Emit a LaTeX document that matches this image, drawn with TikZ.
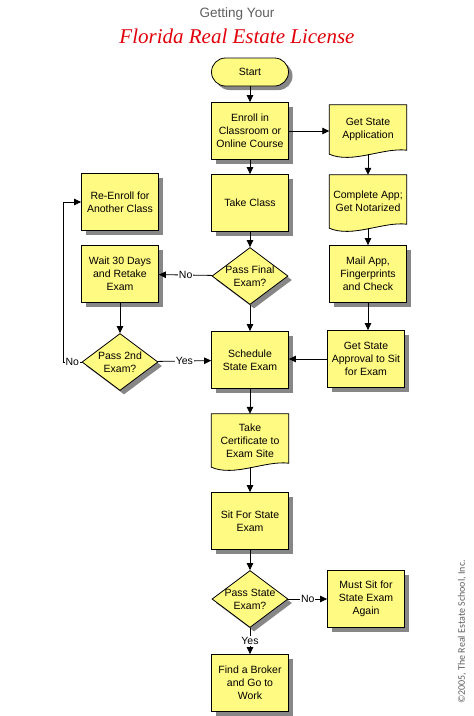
\documentclass[tikz,border=0pt]{standalone}
\usepackage{fontspec}
\setmainfont{Liberation Sans}
\newfontfamily\titleserif{Liberation Serif}
\newfontfamily\capfont{Carlito}
\usetikzlibrary{shapes.geometric,arrows.meta,shadows}
\definecolor{boxy}{RGB}{255,250,130}
\definecolor{titlered}{RGB}{225,0,10}
\definecolor{capgray}{RGB}{95,95,95}
\definecolor{shadowgray}{RGB}{135,135,135}
\pgfdeclarelayer{bg}
\pgfsetlayers{bg,main}
\tikzset{
  txt/.style={font=\fontsize{10.5}{13}\selectfont, align=center, inner sep=1pt},
  shad/.style={drop shadow={shadow xshift=4pt, shadow yshift=-4pt, fill=shadowgray, opacity=1}},
  proc/.style={txt, draw, line width=0.8pt, fill=boxy, shad, minimum width=77pt, minimum height=57pt},
  term/.style={txt, draw, line width=0.8pt, fill=boxy, shad, minimum width=77pt, minimum height=28pt, rounded corners=14pt},
  dec/.style={diamond, draw, line width=0.8pt, fill=boxy, shad, minimum width=76pt, minimum height=57pt, inner sep=0pt},
  doc/.style={txt, minimum width=77pt},
  arr/.style={line width=0.8pt, -{Triangle[length=7pt,width=6.5pt]}},
  lbl/.style={font=\fontsize{10.5}{12}\selectfont, fill=white, inner sep=1pt},
}
\newcommand\docpath[1]{(#1.north west) -- (#1.north east) -- ([yshift=4pt]#1.south east) .. controls ([xshift=-23pt,yshift=7pt]#1.south east) and ([xshift=23pt,yshift=-10pt]#1.south west) .. (#1.south west) -- cycle}
\newcommand\drawdoc[1]{%
  \begin{pgfonlayer}{bg}
    \fill[shadowgray, xshift=4pt, yshift=-4pt] \docpath{#1};
    \draw[line width=0.8pt, fill=boxy] \docpath{#1};
  \end{pgfonlayer}}
\begin{document}
\begin{tikzpicture}[x=1pt,y=-1pt]
\useasboundingbox (0,0) rectangle (474,716);
% titles
\node[font=\fontsize{13.5}{15}\selectfont, text=capgray] (t1) at (237,14) {Getting Your};
\node[font=\titleserif\itshape\fontsize{21}{24}\selectfont, text=titlered] (t2) at (237,36) {Florida Real Estate License};
\node[font=\capfont\fontsize{10}{12}\selectfont, text=capgray, rotate=90] (copy) at (462,632) {©2005, The Real Estate School, Inc.};
% main column
\node[term] (start) at (250,72) {Start};
\node[proc] (enroll) at (250,131) {Enroll in\\Classroom or\\Online Course};
\node[proc] (take) at (250,203) {Take Class};
\node[dec, label={[txt]center:Pass Final\\Exam?}] (d1) at (250,276) {};
\node[proc] (sched) at (250,360) {Schedule\\State Exam};
\node[doc, minimum height=53pt] (cert) at (250,440.5) {Take\\Certificate to\\Exam Site};
\drawdoc{cert}
\node[proc] (sit) at (250,521) {Sit For State\\Exam};
\node[dec, label={[txt]center:Pass State\\Exam?}] (d3) at (250,599) {};
\node[proc] (broker) at (250,683) {Find a Broker\\and Go to\\Work};
% left column
\node[proc] (reenroll) at (120,202) {Re-Enroll for\\Another Class};
\node[proc] (wait) at (120,274) {Wait 30 Days\\and Retake\\Exam};
\node[dec, label={[txt]center:Pass 2nd\\Exam?}] (d2) at (120,362) {};
\coordinate (bend) at (63,362);
% right column
\node[doc, minimum height=49pt] (gsa) at (368,129.5) {Get State\\Application};
\drawdoc{gsa}
\node[doc, minimum height=53pt] (complete) at (368,201.5) {Complete App;\\Get Notarized};
\drawdoc{complete}
\node[proc] (mail) at (368,274) {Mail App,\\Fingerprints\\and Check};
\node[proc] (approval) at (366,359) {Get State\\Approval to Sit\\for Exam};
\node[proc] (must) at (366,599) {Must Sit for\\State Exam\\Again};
% connectors
\draw[arr] (start) -- (enroll);
\draw[arr] (enroll) -- (take);
\draw[arr] (take) -- (d1);
\draw[arr] (d1) -- (sched);
\draw[arr] (d1) -- node[lbl]{No} (wait);
\draw[arr] (wait) -- (d2);
\draw[arr] (d2) -- node[lbl]{Yes} (sched);
\draw[arr] (d2.west) -- node[lbl]{No} (bend) |- (reenroll.west);
\draw[arr] (enroll.east) -- (enroll.east -| gsa.west);
\draw[arr] (gsa.south) -- (complete.north);
\draw[arr] (complete.south) -- (mail.north);
\draw[arr] (mail.south) -- (mail.south |- approval.north);
\draw[arr] (approval.west) -- (approval.west -| sched.east);
\draw[arr] (sched) -- (cert);
\draw[arr] (cert.south) -- (sit.north);
\draw[arr] (sit) -- (d3);
\draw[arr] (d3) -- node[lbl]{No} (must);
\draw[arr] (d3) -- node[lbl]{Yes} (broker);
\end{tikzpicture}
\end{document}
